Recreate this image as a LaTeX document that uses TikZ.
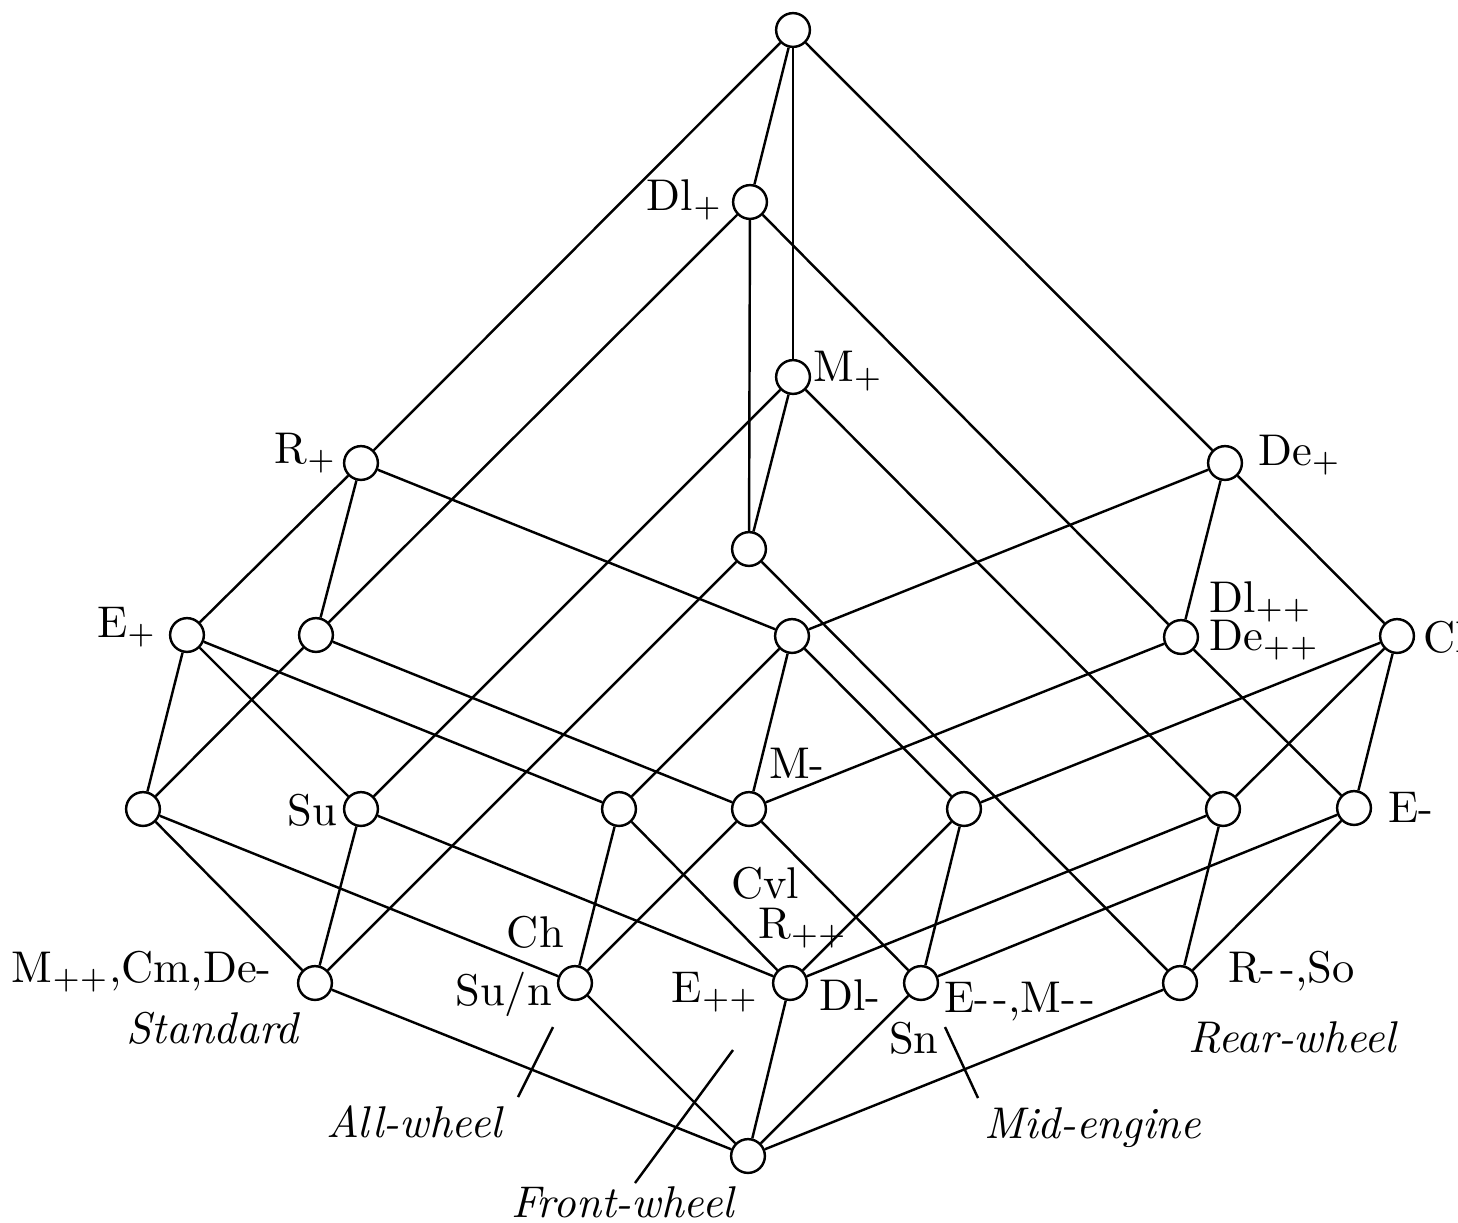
\documentclass[tikz,border=0pt]{standalone}
\usepackage{amsmath}
\begin{document}
\begin{tikzpicture}[x=0.225pt,y=-0.225pt,line width=0.55pt,
    concept/.style={circle, draw, fill=white, minimum size=7.6pt, inner sep=0pt},
    lbl/.style={inner sep=0pt}]
    \useasboundingbox (0,0) rectangle (1458,1222);

    % Concepts of the lattice, from top to bottom
    \node[concept] (top) at (793,30) {};
    \node[concept] (dlp) at (750,202) {};
    \node[concept] (mp) at (793,377) {};
    \node[concept] (rp) at (361,463) {};
    \node[concept] (dep) at (1225,463) {};
    \node[concept] (c1) at (749,549) {};
    \node[concept] (ep) at (187,635) {};
    \node[concept] (c2) at (316,635) {};
    \node[concept] (c3) at (792,636) {};
    \node[concept] (dlpp) at (1181,637) {};
    \node[concept] (cl) at (1397,636) {};
    \node[concept] (c4) at (143,809) {};
    \node[concept] (su) at (361,809) {};
    \node[concept] (c5) at (619,809) {};
    \node[concept] (mm) at (749,809) {};
    \node[concept] (c6) at (964,809) {};
    \node[concept] (c7) at (1223,809) {};
    \node[concept] (em) at (1354,808) {};
    \node[concept] (std) at (315,983) {};
    \node[concept] (allw) at (575,983) {};
    \node[concept] (front) at (790,983) {};
    \node[concept] (midw) at (921,983) {};
    \node[concept] (rear) at (1180,983) {};
    \node[concept] (bot) at (748,1156) {};

    % Lines between neighbouring concepts
    \foreach \a/\b in {top/rp, top/dlp, top/mp, top/dep,
        dlp/c2, dlp/c1, dlp/dlpp, mp/su, mp/c1, mp/c7,
        rp/ep, rp/c2, rp/c3, dep/c3, dep/dlpp, dep/cl,
        c1/std, c1/rear, ep/c4, ep/su, ep/c5, c2/c4, c2/mm,
        c3/c5, c3/mm, c3/c6, dlpp/mm, dlpp/em, cl/c6, cl/c7, cl/em,
        c4/std, c4/allw, su/std, su/front, c5/allw, c5/front,
        mm/allw, mm/midw, c6/front, c6/midw, c7/front, c7/rear,
        em/midw, em/rear,
        std/bot, allw/bot, front/bot, midw/bot, rear/bot}
        \draw (\a) -- (\b);

    % Attribute labels
    \node[lbl, anchor=base east] (dlplab) at (724,210) {Dl$_+$};
    \node[lbl, anchor=base west] (mplab) at (812,381) {M$_+$};
    \node[lbl, anchor=base east] (rplab) at (338,463) {R$_+$};
    \node[lbl, anchor=base west] (deplab) at (1257,465) {De$_+$};
    \node[lbl, anchor=base east] (eplab) at (158,637) {E$_+$};
    \node[lbl, anchor=base west] (dlpplab) at (1208,612) {Dl$_{++}$};
    \node[lbl, anchor=base west] (depplab) at (1208,650) {De$_{++}$};
    \node[lbl, anchor=base west] (cllab) at (1422,652) {Cl};
    \node[lbl, anchor=base east] (sulab) at (338,825) {Su};
    \node[lbl, anchor=base west] (mmlab) at (768,778) {M-};
    \node[lbl, anchor=base west] (emlab) at (1387,822) {E-};
    \node[lbl, anchor=base east] (stdlab) at (273,982) {M$_{++}$,Cm,De-};
    \node[lbl, anchor=base east] (chlab) at (565,947) {Ch};
    \node[lbl, anchor=base east] (sunlab) at (553,1005) {Su/n};
    \node[lbl, anchor=base west] (cvllab) at (730,898) {Cvl};
    \node[lbl, anchor=base west] (rpplab) at (757,938) {R$_{++}$};
    \node[lbl, anchor=base east] (epplab) at (760,1002) {E$_{++}$};
    \node[lbl, anchor=base west] (dlmlab) at (818,1010) {Dl-};
    \node[lbl, anchor=base west] (snlab) at (888,1053) {Sn};
    \node[lbl, anchor=base west] (emmlab) at (943,1012) {E-\kern1pt-,M-\kern1pt-};
    \node[lbl, anchor=base west] (rmmlab) at (1227,982) {R-\kern1pt-,So};

    % Drive types
    \node[lbl, anchor=base east] (stdname) at (302,1043) {\textit{Standard}};
    \node[lbl, anchor=base west] (rearname) at (1187,1052) {\textit{Rear-wheel}};
    \node[lbl, anchor=base west] (allname) at (325,1137) {\textit{All-wheel}};
    \node[lbl, anchor=base west] (midname) at (983,1138) {\textit{Mid-engine}};
    \node[lbl, anchor=base west] (frontname) at (510,1217) {\textit{Front-wheel}};

    % Pointers to the regions
    \coordinate (aw1) at (553,1027);
    \coordinate (aw2) at (518,1097);
    \coordinate (fw1) at (733,1050);
    \coordinate (fw2) at (635,1183);
    \coordinate (me1) at (945,1027);
    \coordinate (me2) at (978,1098);
    \draw (aw1) -- (aw2);
    \draw (fw1) -- (fw2);
    \draw (me1) -- (me2);
\end{tikzpicture}
\end{document}
